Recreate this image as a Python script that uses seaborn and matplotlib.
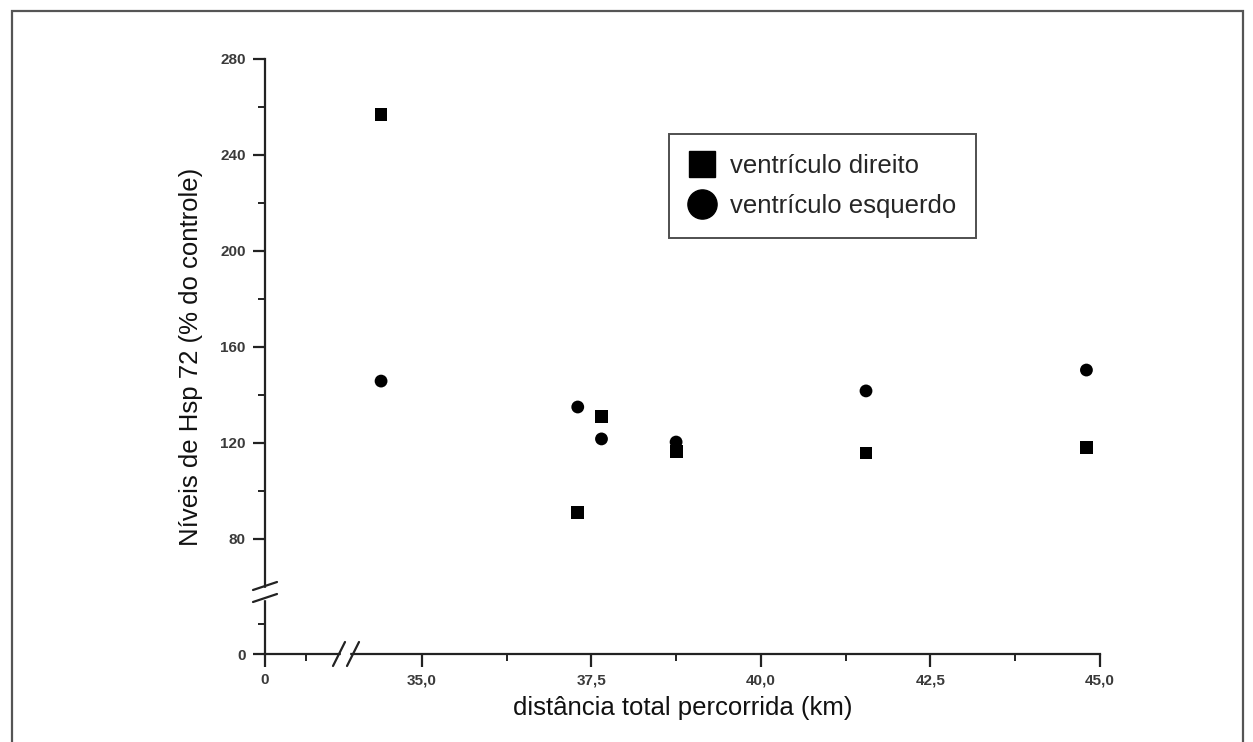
import numpy as np
import pandas as pd
import matplotlib
matplotlib.use("Agg")
import matplotlib.pyplot as plt
import seaborn as sns
from matplotlib.lines import Line2D
from matplotlib.patches import Rectangle

# ---- data ----
distancia = [34.4, 37.3, 37.65, 38.75, 41.55, 44.8]
vd = [257.0, 91.0, 131.0, 116.5, 115.8, 118.0]   # ventrículo direito
ve = [145.8, 135.0, 121.7, 120.4, 141.7, 150.4]  # ventrículo esquerdo
series_names = ["ventrículo direito", "ventrículo esquerdo"]
x_ticks = [0, 35, 37.5, 40, 42.5, 45]
x_ticklabels = ["0", "35,0", "37,5", "40,0", "42,5", "45,0"]
y_ticks = [0, 80, 120, 160, 200, 240, 280]
y_ticklabels = ["0", "80", "120", "160", "200", "240", "280"]

df = pd.DataFrame({
    "dist": distancia * 2,
    "hsp": vd + ve,
    "grupo": [series_names[0]] * len(vd) + [series_names[1]] * len(ve),
})

# ---- broken scales (piecewise linear) ----
XB, XB_F, X_K = 33.9, 82.0, 67.7      # break value, px offset at break, px/unit after
def xf(x):
    x = np.asarray(x, float)
    return np.where(x <= XB, x * XB_F / XB, XB_F + (x - XB) * X_K)
def xi(p):
    p = np.asarray(p, float)
    return np.where(p <= XB_F, p * XB / XB_F, XB + (p - XB_F) / X_K)

YB, YB_F, Y_K = 57.5, 61.0, 2.4
def yf(y):
    y = np.asarray(y, float)
    return np.where(y <= YB, y * YB_F / YB, YB_F + (y - YB) * Y_K)
def yi(p):
    p = np.asarray(p, float)
    return np.where(p <= YB_F, p * YB / YB_F, YB + (p - YB_F) / Y_K)

sns.set_theme(style="ticks")
plt.rcParams["font.family"] = ["Liberation Sans", "DejaVu Sans"]

W, H = 1253, 742
fig = plt.figure(figsize=(W / 100, H / 100), dpi=100)
L, R, T, B = 265, 1100, 59, 654
ax = fig.add_axes([L / W, 1 - B / H, (R - L) / W, (B - T) / H])

ax.set_xscale("function", functions=(xf, xi))
ax.set_yscale("function", functions=(yf, yi))

sns.scatterplot(data=df, x="dist", y="hsp", style="grupo", hue="grupo",
                palette=["black", "black"], markers=["s", "o"],
                s=85, linewidth=0, ax=ax, legend=False, clip_on=False)

ax.set_xlim(0, 45)
ax.set_ylim(0, 280)
ax.set_xticks(x_ticks)
ax.set_xticklabels(x_ticklabels)
ax.set_yticks(y_ticks)
ax.set_yticklabels(y_ticklabels)
ax.set_xticks([XB / 2, 36.25, 38.75, 41.25, 43.75], minor=True)
ax.set_yticks([YB / 2, 100, 140, 180, 220, 260], minor=True)

for s in ["top", "right"]:
    ax.spines[s].set_visible(False)
for s in ["left", "bottom"]:
    ax.spines[s].set_linewidth(1.6)
    ax.spines[s].set_color("#222222")
ax.tick_params(which="major", direction="out", length=9, width=1.6, color="#222222",
               labelsize=11, labelcolor="#3a3a3a", pad=5)
ax.tick_params(which="minor", direction="out", length=5, width=1.4, color="#222222")
for lab in ax.get_xticklabels() + ax.get_yticklabels():
    lab.set_fontweight("bold")

ax.set_xlabel("distância total percorrida (km)", fontsize=18.5, color="#111111", labelpad=6)
ax.set_ylabel("Níveis de Hsp 72 (% do controle)", fontsize=18.5, color="#111111", labelpad=12)

# break marks
def px2ax_x(px):
    return (px - L) / (R - L)
def px2ax_y(py):
    return (B - py) / (B - T)

ax.add_patch(Rectangle((px2ax_x(341), px2ax_y(649)), px2ax_x(349) - px2ax_x(341),
                       px2ax_y(659) - px2ax_y(649), transform=ax.transAxes,
                       color="white", clip_on=False, zorder=5))
for dx in [0, 14]:
    ax.plot([px2ax_x(333 + dx), px2ax_x(345 + dx)], [px2ax_y(666), px2ax_y(642)],
            transform=ax.transAxes, color="#222222", lw=1.6, clip_on=False, zorder=6)

ax.add_patch(Rectangle((px2ax_x(259), px2ax_y(599)), px2ax_x(271) - px2ax_x(259),
                       px2ax_y(588) - px2ax_y(599), transform=ax.transAxes,
                       color="white", clip_on=False, zorder=5))
for dy in [0, 12]:
    ax.plot([px2ax_x(253), px2ax_x(277)], [px2ax_y(590 + dy), px2ax_y(582 + dy)],
            transform=ax.transAxes, color="#222222", lw=1.6, clip_on=False, zorder=6)

# legend
handles = [Line2D([], [], marker="s", color="black", linestyle="none", markersize=19),
           Line2D([], [], marker="o", color="black", linestyle="none", markersize=21)]
leg = ax.legend(handles, series_names, loc="upper left",
                bbox_to_anchor=(px2ax_x(669), px2ax_y(134)),
                frameon=True, fancybox=False, fontsize=18.5, handletextpad=0.6,
                borderpad=0.78, labelspacing=0.62, handlelength=1.0, borderaxespad=0)
leg.get_frame().set_edgecolor("#222222")
leg.get_frame().set_linewidth(1.4)

# outer frame
fig.patches.append(Rectangle((12 / W, -0.01), (1243 - 12) / W, 1.01 - 11 / H,
                             transform=fig.transFigure, fill=False,
                             edgecolor="#555555", linewidth=1.6))

fig.savefig("out.png", dpi=100)
